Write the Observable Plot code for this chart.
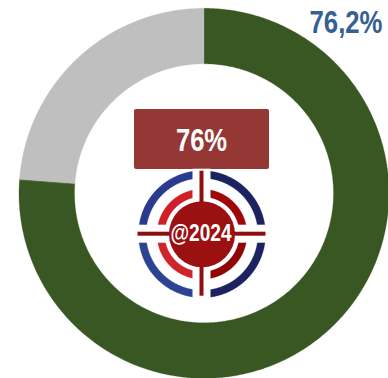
<!DOCTYPE html>
<html>
<head>
<meta charset="utf-8">
<style>html,body{margin:0;padding:0;background:#fff}svg{display:block}</style>
<script src="https://cdn.jsdelivr.net/npm/d3@7"></script>
<script src="https://cdn.jsdelivr.net/npm/@observablehq/plot@0.6"></script>
</head>
<body>
<script>
const sliceNames = ["Realizado", "Restante"];
const sliceValues = [76.2, 23.8];
const sliceColors = ["#385723", "#bfbfbf"];
const valueLabel = "76,2%";
const boxLabel = "76%";
const logoLabel = "@2024";

const W = 388, H = 378;
const font = "'Liberation Sans',Arial,sans-serif";

// annular sector outline, angles in degrees clockwise from 12 o'clock
function sector(cx, cy, r0, r1, a0, a1) {
  const n = Math.max(2, Math.ceil(Math.abs(a1 - a0) * 2));
  const pt = (r, a) => {
    const t = a * Math.PI / 180;
    return {x: cx + r * Math.sin(t), y: cy - r * Math.cos(t)};
  };
  const angles = d3.range(n + 1).map(i => a0 + (a1 - a0) * i / n);
  return [...angles.map(a => pt(r1, a)), ...angles.slice().reverse().map(a => pt(r0, a))];
}
const ring = (cx, cy, r0, r1, a0, a1, fill) =>
  Plot.line(sector(cx, cy, r0, r1, a0, a1), {x: "x", y: "y", fill, stroke: fill, strokeWidth: 0.3, curve: "linear-closed"});

// condensed text: Plot text squeezed horizontally, as no narrow face is installed
const narrow = (label, x, y, sx, fontSize, fill) =>
  Plot.text([label], {
    x: () => x, y: () => y, text: d => d, fill, fontFamily: font, fontWeight: "bold", fontSize,
    render(index, scales, values, dimensions, context, next) {
      const g = next(index, scales, values, dimensions, context);
      d3.select(g).selectAll("text").attr("transform", function () {
        return `${this.getAttribute("transform") || ""} scale(${sx},1)`;
      });
      return g;
    }
  });

const total = d3.sum(sliceValues);
let acc = 0;
const donut = sliceValues.map((v, i) => {
  const a0 = acc / total * 360;
  acc += v;
  return ring(203.5, 192.8, 129.5, 185, a0, acc / total * 360, sliceColors[i]);
});

// logo geometry
const lx = 201.5, ly = 233.7;
const quadrants = [
  [0, 90, "#1c2260", "#a00808"],
  [90, 180, "#1c2260", "#8f0505"],
  [180, 270, "#2c4392", "#d0232c"],
  [270, 360, "#2a3a8c", "#d01f28"]
];
const logo = quadrants.flatMap(([a0, a1, blue, red]) => [
  ring(lx, ly, 56, 63.5, a0, a1, blue),
  ring(lx, ly, 37.5, 45, a0, a1, red)
]);
const one = [0];

const chart = Plot.plot({
  width: W, height: H,
  margin: 0,
  x: {domain: [0, W], range: [0, W], axis: null},
  y: {domain: [0, H], range: [0, H], axis: null},
  marks: [
    ...donut,
    Plot.rect(one, {x1: () => 134, x2: () => 269, y1: () => 109, y2: () => 169, fill: "#953735", r: 2}),
    narrow(boxLabel, 201, 140.5, 0.8, 32, "#fff"),
    ...logo,
    Plot.rect(one, {x1: () => lx - 65, x2: () => lx + 65, y1: () => ly - 9, y2: () => ly + 9, fill: "#fff"}),
    Plot.rect(one, {x1: () => lx - 9, x2: () => lx + 9, y1: () => ly - 65, y2: () => ly + 65, fill: "#fff"}),
    Plot.rect(one, {x1: () => lx - 64, x2: () => lx + 64, y1: () => ly - 2, y2: () => ly + 2, fill: "#8f0f0f"}),
    Plot.rect(one, {x1: () => lx - 2, x2: () => lx + 2, y1: () => ly - 63, y2: () => ly + 62, fill: "#8f0f0f"}),
    Plot.dot(one, {x: () => lx, y: () => ly, r: 33, fill: "#9b1010"}),
    narrow(logoLabel, 200.5, 233, 0.83, 23, "#fff"),
    narrow(valueLabel, 345.5, 22.5, 0.83, 31, "#376092")
  ]
});
document.body.appendChild(chart);
</script>
</body>
</html>
